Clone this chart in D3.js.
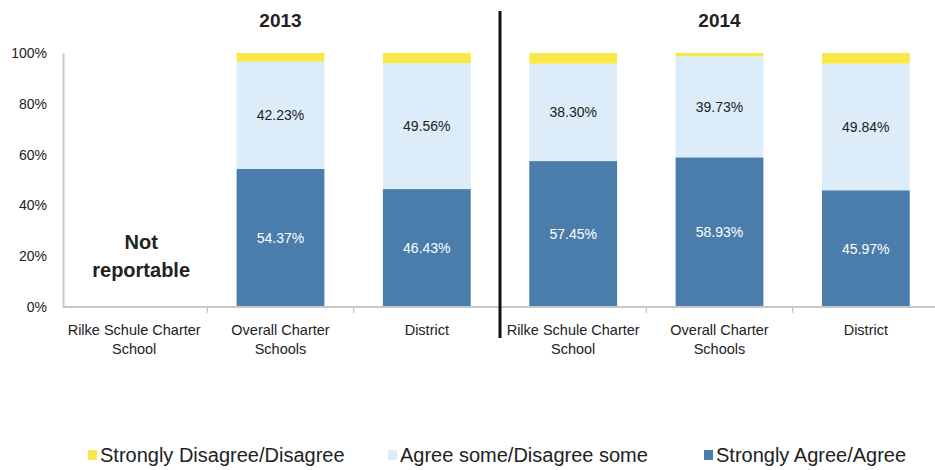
<!DOCTYPE html>
<head>
  <meta charset="utf-8">
  <script src="https://d3js.org/d3.v7.min.js"></script>
  <style>
    body {
      margin: 0;
      background-color: #fff;
    }
    svg text {
      font-family: 'Liberation Sans', Arial, sans-serif;
      fill: #222;
    }
  </style>
</head>

<body>
  <div id="chart"></div>
  <script>
    // data
    var years = ['2013', '2014'];
    var categories = [
      '2013|Rilke Schule Charter School', '2013|Overall Charter Schools', '2013|District',
      '2014|Rilke Schule Charter School', '2014|Overall Charter Schools', '2014|District'
    ];
    var agree = [null, 54.37, 46.43, 57.45, 58.93, 45.97];
    var some = [null, 42.23, 49.56, 38.30, 39.73, 49.84];
    var disagree = [null, 3.40, 4.01, 4.25, 1.34, 4.19];
    var series = ['Strongly Disagree/Disagree', 'Agree some/Disagree some', 'Strongly Agree/Agree'];
    var yTicks = [0, 20, 40, 60, 80, 100];

    var colors = {
      'Strongly Agree/Agree': '#4a7dac',
      'Agree some/Disagree some': '#dcedf9',
      'Strongly Disagree/Disagree': '#f9e84a'
    };

    var width = 935, height = 470;
    var svg = d3.select('#chart').append('svg')
      .attr('width', width)
      .attr('height', height);

    var x = d3.scaleBand()
      .domain(categories)
      .range([61, 939])
      .paddingInner(0.4)
      .paddingOuter(0.2);

    var y = d3.scaleLinear()
      .domain([0, 100])
      .range([307, 53]);

    // stacked rows
    var rows = categories.map(function(c, i) {
      return {
        cat: c,
        'Strongly Agree/Agree': agree[i],
        'Agree some/Disagree some': some[i],
        'Strongly Disagree/Disagree': disagree[i]
      };
    }).filter(function(r) { return r['Strongly Agree/Agree'] != null });

    var stack = d3.stack().keys(['Strongly Agree/Agree', 'Agree some/Disagree some', 'Strongly Disagree/Disagree']);
    var layers = stack(rows);

    svg.selectAll('g.layer')
      .data(layers)
      .enter().append('g')
      .attr('class', 'layer')
      .attr('fill', function(d) { return colors[d.key] })
      .selectAll('rect')
      .data(function(d) { return d })
      .enter().append('rect')
      .attr('x', function(d) { return x(d.data.cat) })
      .attr('width', x.bandwidth())
      .attr('y', function(d) { return y(d[1]) })
      .attr('height', function(d) { return y(d[0]) - y(d[1]) });

    // value labels on the two big segments
    layers.slice(0, 2).forEach(function(layer, li) {
      svg.selectAll(null)
        .data(layer)
        .enter().append('text')
        .attr('x', function(d) { return x(d.data.cat) + x.bandwidth() / 2 })
        .attr('y', function(d) { return y((d[0] + d[1]) / 2) })
        .attr('dy', '0.35em')
        .attr('text-anchor', 'middle')
        .style('font-size', '14px')
        .style('fill', li == 0 ? '#fff' : '#222')
        .text(function(d) { return (d[1] - d[0]).toFixed(2) + '%' });
    });

    // y axis
    var yAxis = svg.append('g')
      .attr('transform', 'translate(63,0)')
      .call(d3.axisLeft(y).tickValues(yTicks).tickSize(0).tickPadding(16)
        .tickFormat(function(d) { return d + '%' }));
    yAxis.select('.domain').attr('stroke', '#c8c8c8').attr('stroke-width', 2);
    yAxis.selectAll('text').style('font-size', '14px').style('fill', '#222')
      .style('font-family', "'Liberation Sans', Arial, sans-serif");

    // baseline with category separators
    svg.append('line')
      .attr('x1', 63).attr('x2', 935)
      .attr('y1', y(0)).attr('y2', y(0))
      .attr('stroke', '#c8c8c8').attr('stroke-width', 2);
    svg.selectAll('line.sep')
      .data(categories.slice(1))
      .enter().append('line')
      .attr('class', 'sep')
      .attr('x1', function(d) { return x(d) - x.step() * x.paddingInner() / 2 })
      .attr('x2', function(d) { return x(d) - x.step() * x.paddingInner() / 2 })
      .attr('y1', y(0)).attr('y2', y(0) + 6)
      .attr('stroke', '#c8c8c8').attr('stroke-width', 1.5);

    // category labels, wrapped into two lines
    var labelLines = {
      'Rilke Schule Charter School': ['Rilke Schule Charter', 'School'],
      'Overall Charter Schools': ['Overall Charter', 'Schools'],
      'District': ['District']
    };
    categories.forEach(function(c) {
      var school = c.split('|')[1];
      var t = svg.append('text')
        .attr('x', x(c) + x.bandwidth() / 2)
        .attr('y', 335)
        .attr('text-anchor', 'middle')
        .style('font-size', '14.5px');
      labelLines[school].forEach(function(line, k) {
        t.append('tspan')
          .attr('x', x(c) + x.bandwidth() / 2)
          .attr('dy', k == 0 ? 0 : 19)
          .text(line);
      });
    });

    // year titles
    years.forEach(function(yr) {
      svg.append('text')
        .attr('x', x(yr + '|Overall Charter Schools') + x.bandwidth() / 2)
        .attr('y', 27)
        .attr('text-anchor', 'middle')
        .style('font-size', '19px')
        .style('font-weight', 'bold')
        .text(yr);
    });

    // divider between the years
    var divX = (x('2013|District') + x.bandwidth() + x('2014|Rilke Schule Charter School')) / 2;
    svg.append('line')
      .attr('x1', divX).attr('x2', divX)
      .attr('y1', 11).attr('y2', 338)
      .attr('stroke', '#111').attr('stroke-width', 3);

    // not reportable note
    var nrX = x('2013|Rilke Schule Charter School') + x.bandwidth() / 2 + 7;
    var nr = svg.append('text')
      .attr('x', nrX)
      .attr('y', 249)
      .attr('text-anchor', 'middle')
      .style('font-size', '20px')
      .style('font-weight', 'bold');
    nr.append('tspan').attr('x', nrX).text('Not');
    nr.append('tspan').attr('x', nrX).attr('dy', 28).text('reportable');

    // legend
    var legendX = [88, 388, 704];
    var legend = svg.selectAll('g.legend')
      .data(series)
      .enter().append('g')
      .attr('class', 'legend')
      .attr('transform', function(d, i) { return 'translate(' + legendX[i] + ',450)' });
    legend.append('rect')
      .attr('width', 9).attr('height', 10)
      .attr('fill', function(d) { return colors[d] });
    legend.append('text')
      .attr('x', 12)
      .attr('y', 5)
      .attr('dy', '0.35em')
      .style('font-size', '20px')
      .text(function(d) { return d });
  </script>
</body>
